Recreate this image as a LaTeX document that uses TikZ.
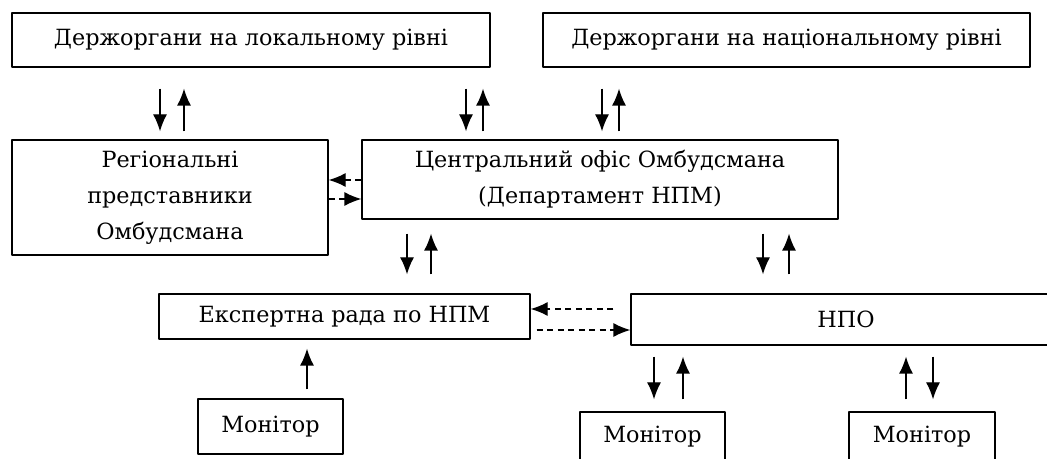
\documentclass[tikz,border=0pt]{standalone}
\usepackage{fontspec}
\setmainfont{DejaVu Serif}
\usetikzlibrary{arrows.meta}
\begin{document}
\begin{tikzpicture}[line join=bevel,line width=1.3bp,
  box/.style={draw,inner sep=0pt,align=center,font=\fontsize{22.4}{36}\selectfont},
  arr/.style={black,-{Latex[length=17bp,width=14bp]}},
  dsh/.style={dash pattern=on 6bp off 4.5bp}]
%%
\clip (0bp,0bp) rectangle (1047bp,459bp);
\node (node_0) at (251.0bp,419.0bp) [box,minimum width=478bp,minimum height=54bp] {Держоргани на локальному рівні};
  \node (node_1) at (786.5bp,419.0bp) [box,minimum width=487bp,minimum height=54bp] {Держоргани на національному рівні};
  \node (node_2) at (170.0bp,261.5bp) [box,minimum width=316bp,minimum height=115bp] {Регіональні\\представники\\Омбудсмана};
  \node (node_3) at (600.0bp,279.5bp) [box,minimum width=476bp,minimum height=79bp] {Центральний офіс Омбудсмана\\(Департамент НПМ)};
  \node (node_4) at (344.5bp,142.5bp) [box,minimum width=371bp,minimum height=45bp] {Експертна рада по НПМ};
  \node (node_5) at (846.0bp,139.5bp) [box,minimum width=430bp,minimum height=51bp] {НПО};
  \node (node_6) at (270.5bp,32.5bp) [box,minimum width=145bp,minimum height=55bp] {Монітор};
  \node (node_7) at (652.5bp,22.5bp) [box,minimum width=145bp,minimum height=49bp] {Монітор};
  \node (node_8) at (922.0bp,22.5bp) [box,minimum width=146bp,minimum height=49bp] {Монітор};
%
  \draw [arr,shorten <=21bp,shorten >=8bp] (160bp,0 |- node_0.south) -- (160bp,0 |- node_2.north);
  \draw [arr,shorten <=8bp,shorten >=21bp] (184bp,0 |- node_2.north) -- (184bp,0 |- node_0.south);
  \draw [arr,shorten <=21bp,shorten >=8bp] (466bp,0 |- node_0.south) -- (466bp,0 |- node_3.north);
  \draw [arr,shorten <=8bp,shorten >=21bp] (483bp,0 |- node_3.north) -- (483bp,0 |- node_0.south);
  \draw [arr,shorten <=21bp,shorten >=8bp] (602bp,0 |- node_1.south) -- (602bp,0 |- node_3.north);
  \draw [arr,shorten <=8bp,shorten >=21bp] (619bp,0 |- node_3.north) -- (619bp,0 |- node_1.south);
%
  \draw [arr,dsh] (node_3.west |- 0,279bp) -- (node_2.east |- 0,279bp);
  \draw [arr,dsh] (node_2.east |- 0,260bp) -- (node_3.west |- 0,260bp);
  \draw [arr,dsh,shorten <=17bp] (node_5.west |- 0,150bp) -- (node_4.east |- 0,150bp);
  \draw [arr,dsh,shorten <=6bp] (node_4.east |- 0,129bp) -- (node_5.west |- 0,129bp);
%
  \draw [arr,shorten <=14bp,shorten >=19bp] (407bp,0 |- node_3.south) -- (407bp,0 |- node_4.north);
  \draw [arr,shorten <=19bp,shorten >=14bp] (431bp,0 |- node_4.north) -- (431bp,0 |- node_3.south);
  \draw [arr,shorten <=14bp,shorten >=19bp] (763bp,0 |- node_3.south) -- (763bp,0 |- node_5.north);
  \draw [arr,shorten <=19bp,shorten >=14bp] (789bp,0 |- node_5.north) -- (789bp,0 |- node_3.south);
%
  \draw [arr,shorten <=9bp,shorten >=9bp] (307bp,0 |- node_6.north) -- (307bp,0 |- node_4.south);
  \draw [arr,shorten <=11bp,shorten >=12bp] (654bp,0 |- node_5.south) -- (654bp,0 |- node_7.north);
  \draw [arr,shorten <=12bp,shorten >=11bp] (683bp,0 |- node_7.north) -- (683bp,0 |- node_5.south);
  \draw [arr,shorten <=12bp,shorten >=11bp] (906bp,0 |- node_8.north) -- (906bp,0 |- node_5.south);
  \draw [arr,shorten <=11bp,shorten >=12bp] (933bp,0 |- node_5.south) -- (933bp,0 |- node_8.north);
%
\end{tikzpicture}
\end{document}
